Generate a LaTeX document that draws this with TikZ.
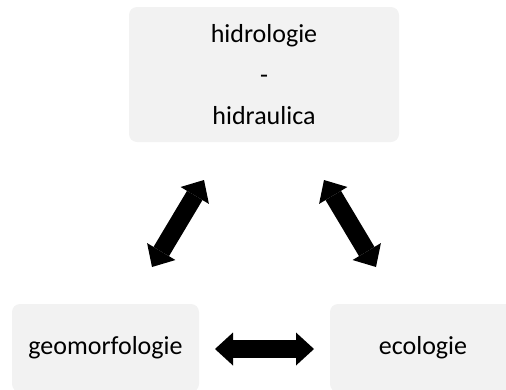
\documentclass[tikz,border=0pt]{standalone}
\usepackage{fontspec}
\setmainfont{Carlito}
\usetikzlibrary{arrows.meta}
\definecolor{boxgray}{HTML}{F2F2F2}
\tikzset{
  box/.style={fill=boxgray, rounded corners=8pt, inner sep=0pt, align=center,
    font=\fontsize{26}{41}\selectfont, text=black},
  blockarrow/.style={line width=18pt,
    {Triangle[width=33pt,length=18pt,line width=0pt]}-{Triangle[width=33pt,length=18pt,line width=0pt]}}
}
\begin{document}
\begin{tikzpicture}[x=1pt,y=-1pt]
\useasboundingbox (0,0) rectangle (506,389);
\node[box, minimum width=270pt, minimum height=135pt] (hid) at (264,74.5) {hidrologie\\-\\hidraulica};
\node[box, minimum width=187pt, minimum height=88pt] (geo) at (105.5,348) {geomorfologie};
\node[box, minimum width=186pt, minimum height=88pt] (eco) at (423,348) {ecologie};
\coordinate (a1) at (204,180);
\coordinate (a2) at (152,267);
\coordinate (b1) at (324,180);
\coordinate (b2) at (376,267);
\coordinate (c1) at (215,349);
\coordinate (c2) at (314,349);
\draw[blockarrow] (a1) -- (a2);
\draw[blockarrow] (b1) -- (b2);
\draw[blockarrow] (c1) -- (c2);
\end{tikzpicture}
\end{document}
